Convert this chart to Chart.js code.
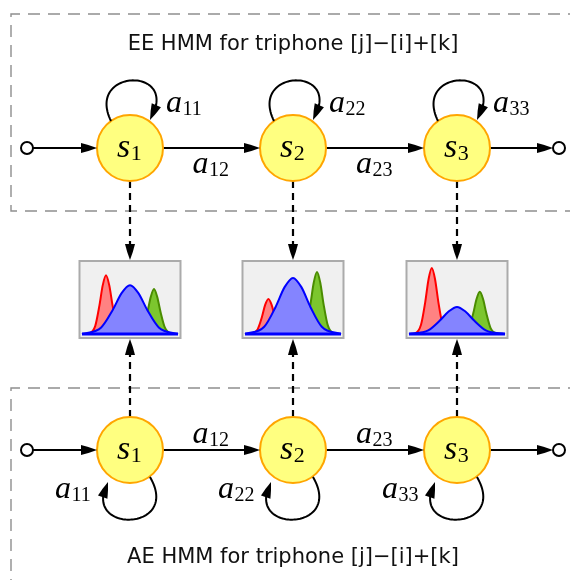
<!DOCTYPE html>
<html>
<head>
<meta charset="utf-8">
<script src="https://cdn.jsdelivr.net/npm/chart.js@4/dist/chart.umd.min.js"></script>
<style>
  html, body { margin: 0; padding: 0; background: #fff; }
  #wrap { width: 570px; height: 580px; }
</style>
</head>
<body>
<div id="wrap"><canvas id="hmm" width="570" height="580"></canvas></div>
<script>
// states and rows of the two HMMs (EE on top, AE at the bottom)
var stateX = [130, 293, 457];
var stateSub = ['1', '2', '3'];
var rowY = [148, 450];
var termX = [27, 559];
var rowTitle = ['EE HMM for triphone [j]\u2212[i]+[k]', 'AE HMM for triphone [j]\u2212[i]+[k]'];
var titleY = [50, 563];
var selfSub = ['11', '22', '33'];
var nextSub = ['12', '23'];

// output densities of each shared state, [feature, density]
var featureRange = [-4, 4];
var redPdf = [
  [[-4, 0], [-3.4, .01], [-2.9, .12], [-2.55, .43], [-2.27, .74], [-2, .89], [-1.73, .74], [-1.45, .43], [-1.1, .12], [-0.6, .01], [4, 0]],
  [[-4, 0], [-3.45, .01], [-2.95, .07], [-2.6, .25], [-2.32, .44], [-2.05, .53], [-1.78, .44], [-1.5, .25], [-1.15, .07], [-0.65, .01], [4, 0]],
  [[-4, 0], [-3.5, .01], [-3.0, .14], [-2.65, .48], [-2.37, .83], [-2.1, 1], [-1.83, .83], [-1.55, .48], [-1.2, .14], [-0.7, .01], [4, 0]]
];
var greenPdf = [
  [[-4, 0], [0.6, .01], [1.1, .1], [1.45, .33], [1.73, .56], [2, .68], [2.27, .56], [2.55, .33], [2.9, .1], [3.4, .01], [4, 0]],
  [[-4, 0], [0.6, .01], [1.1, .13], [1.45, .45], [1.73, .78], [2, .94], [2.27, .78], [2.55, .45], [2.9, .13], [3.4, .01], [4, 0]],
  [[-4, 0], [0.5, .01], [1.0, .09], [1.35, .31], [1.63, .53], [1.9, .64], [2.17, .53], [2.45, .31], [2.8, .09], [3.3, .01], [4, 0]]
];
var bluePdf = [
  [[-4, 0], [-2.4, .1], [-1.45, .36], [-0.7, .62], [0, .74], [0.7, .62], [1.45, .36], [2.4, .1], [4, 0]],
  [[-4, 0], [-2.4, .11], [-1.45, .41], [-0.7, .71], [0, .85], [0.7, .71], [1.45, .41], [2.4, .11], [4, 0]],
  [[-4, 0], [-2.4, .055], [-1.45, .2], [-0.7, .34], [0, .41], [0.7, .34], [1.45, .2], [2.4, .055], [4, 0]]
];

// layout
var R = 33;
var BOX = { top: 261, bottom: 338, half: 50.5, base: 334, ux: 12, uy: 66 };
var AL = 16, AW = 5;
var MATH = '"Liberation Serif", "DejaVu Serif", serif';

function pt(x, y) { return { x: x, y: y }; }

function segment(x1, y1, x2, y2, dash) {
  return {
    type: 'scatter', data: [pt(x1, y1), pt(x2, y2)], showLine: true,
    pointRadius: 0, borderColor: '#000', borderWidth: dash ? 2.2 : 2,
    borderDash: dash || [], order: 20
  };
}

var datasets = [];

// dashed frames around each model
datasets.push({
  type: 'scatter', data: [pt(600, 14), pt(11, 14), pt(11, 211), pt(600, 211)],
  showLine: true, pointRadius: 0, borderColor: '#8e8e8e', borderWidth: 1.4,
  borderDash: [12, 8], order: 30
});
datasets.push({
  type: 'scatter', data: [pt(600, 388), pt(11, 388), pt(11, 600)],
  showLine: true, pointRadius: 0, borderColor: '#8e8e8e', borderWidth: 1.4,
  borderDash: [12, 8], order: 30
});

// arrow heads to draw later: [tipX, tipY, angle]
var heads = [];

rowY.forEach(function(y) {
  var xs = [termX[0] + 6].concat(stateX, [termX[1] - 6]);
  for (var i = 0; i < xs.length - 1; i++) {
    var from = i === 0 ? xs[0] : xs[i] + R;
    var to = i === xs.length - 2 ? xs[i + 1] : xs[i + 1] - R;
    datasets.push(segment(from, y, to - AL + 3, y));
    heads.push([to, y, 0]);
  }
});

// emission links (dashed) into the density plots
stateX.forEach(function(x) {
  datasets.push(segment(x, rowY[0] + R, x, BOX.top - AL + 3, [7, 5]));
  heads.push([x, BOX.top - 1, Math.PI / 2]);
  datasets.push(segment(x, rowY[1] - R, x, BOX.bottom + AL - 3, [7, 5]));
  heads.push([x, BOX.bottom + 1, -Math.PI / 2]);
});

// state nodes and terminals
var nodes = [], terms = [];
rowY.forEach(function(y) {
  stateX.forEach(function(x) { nodes.push(pt(x, y)); });
  terms.push(pt(termX[0], y), pt(termX[1], y));
});
datasets.push({
  type: 'scatter', data: nodes, pointRadius: R, pointHoverRadius: R,
  pointBackgroundColor: '#ffff80', pointBorderColor: '#ffa500', pointBorderWidth: 2, order: 0
});
datasets.push({
  type: 'scatter', data: terms, pointRadius: 6, pointHoverRadius: 6,
  pointBackgroundColor: '#fff', pointBorderColor: '#000', pointBorderWidth: 2, order: 0
});

// mixture densities
function pdfSet(points, x0, line, fillCol, order) {
  return {
    type: 'scatter', showLine: true, pointRadius: 0,
    data: points.map(function(p) { return pt(x0 + p[0] * BOX.ux, BOX.base - p[1] * BOX.uy); }),
    borderColor: line, borderWidth: 2, backgroundColor: fillCol,
    fill: { value: BOX.base }, cubicInterpolationMode: 'monotone', order: order
  };
}
stateX.forEach(function(x, i) {
  datasets.push(pdfSet(redPdf[i], x, '#ff0000', '#ff8282', 12));
  datasets.push(pdfSet(greenPdf[i], x, '#4a8c00', '#7cc62e', 11));
  datasets.push(pdfSet(bluePdf[i], x, '#0000ff', '#8484ff', 10));
  // feature axis of the small plot
  datasets.push({
    type: 'scatter', showLine: true, pointRadius: 0,
    data: [pt(x + featureRange[0] * BOX.ux, BOX.base), pt(x + featureRange[1] * BOX.ux, BOX.base)],
    borderColor: '#0000ff', borderWidth: 3.2, order: 9
  });
});

// self loops as cubic curves, offsets from the node centre
var loopTop = [[-19, -27], [-45, -80], [52, -82], [20, -28]];
var loopBottom = [[20, 27], [52, 82], [-50, 84], [-22, 32]];

function bez(p, t) {
  var u = 1 - t;
  return [
    u * u * u * p[0][0] + 3 * u * u * t * p[1][0] + 3 * u * t * t * p[2][0] + t * t * t * p[3][0],
    u * u * u * p[0][1] + 3 * u * u * t * p[1][1] + 3 * u * t * t * p[2][1] + t * t * t * p[3][1]
  ];
}

function drawHead(ctx, x, y, ang) {
  ctx.save();
  ctx.translate(x, y);
  ctx.rotate(ang);
  ctx.beginPath();
  ctx.moveTo(0, 0);
  ctx.quadraticCurveTo(-AL * 0.5, -AW * 0.62, -AL, -AW);
  ctx.lineTo(-AL, AW);
  ctx.quadraticCurveTo(-AL * 0.5, AW * 0.62, 0, 0);
  ctx.closePath();
  ctx.fillStyle = '#000';
  ctx.fill();
  ctx.restore();
}

function mathLabel(ctx, base, sub, x, y, size) {
  ctx.fillStyle = '#000';
  ctx.textAlign = 'left';
  ctx.textBaseline = 'alphabetic';
  ctx.font = 'italic ' + size + 'px ' + MATH;
  ctx.fillText(base, x, y);
  var w = ctx.measureText(base).width;
  ctx.font = Math.round(size * 0.64) + 'px ' + MATH;
  ctx.fillText(sub, x + w + 0.5, y + 3);
}

var diagram = {
  id: 'diagram',
  beforeDatasetsDraw: function(chart) {
    var ctx = chart.ctx, sx = chart.scales.x, sy = chart.scales.y;
    ctx.save();
    stateX.forEach(function(x) {
      var l = sx.getPixelForValue(x - BOX.half), r = sx.getPixelForValue(x + BOX.half);
      var t = sy.getPixelForValue(BOX.top), b = sy.getPixelForValue(BOX.bottom);
      ctx.fillStyle = '#f0f0f0';
      ctx.fillRect(l, t, r - l, b - t);
      ctx.strokeStyle = '#ababab';
      ctx.lineWidth = 2;
      ctx.strokeRect(l, t, r - l, b - t);
    });
    ctx.restore();
  },
  afterDatasetsDraw: function(chart) {
    var ctx = chart.ctx, sx = chart.scales.x, sy = chart.scales.y;
    function P(x, y) { return [sx.getPixelForValue(x), sy.getPixelForValue(y)]; }
    ctx.save();

    heads.forEach(function(h) {
      var p = P(h[0], h[1]);
      drawHead(ctx, p[0], p[1], h[2]);
    });

    // self loops
    rowY.forEach(function(y, row) {
      var shape = row === 0 ? loopTop : loopBottom;
      stateX.forEach(function(x) {
        var c = shape.map(function(o) { return P(x + o[0], y + o[1]); });
        var tip = c[3], t = 1, q = tip;
        while (t > 0) {
          q = bez(c, t);
          if (Math.hypot(q[0] - tip[0], q[1] - tip[1]) >= AL - 2) break;
          t -= 0.005;
        }
        ctx.beginPath();
        ctx.moveTo(c[0][0], c[0][1]);
        for (var k = 1; k <= 60; k++) {
          var b = bez(c, t * k / 60);
          ctx.lineTo(b[0], b[1]);
        }
        ctx.strokeStyle = '#000';
        ctx.lineWidth = 2;
        ctx.stroke();
        drawHead(ctx, tip[0], tip[1], Math.atan2(tip[1] - q[1], tip[0] - q[0]));
      });
    });

    // state names
    rowY.forEach(function(y) {
      stateX.forEach(function(x, i) {
        var p = P(x - 13, y + 9);
        mathLabel(ctx, 's', stateSub[i], p[0], p[1], 34);
      });
    });

    // transition labels
    stateX.forEach(function(x, i) {
      var p = P(x + 36, 112);
      mathLabel(ctx, 'a', selfSub[i], p[0], p[1], 32);
      p = P(x - 75, 498);
      mathLabel(ctx, 'a', selfSub[i], p[0], p[1], 32);
    });
    nextSub.forEach(function(s, i) {
      var mid = (stateX[i] + stateX[i + 1]) / 2;
      var p = P(mid - 19, 173);
      mathLabel(ctx, 'a', s, p[0], p[1], 32);
      p = P(mid - 19, 443);
      mathLabel(ctx, 'a', s, p[0], p[1], 32);
    });

    // model titles
    ctx.font = '21px "DejaVu Sans", sans-serif';
    ctx.fillStyle = '#111';
    ctx.textAlign = 'center';
    rowTitle.forEach(function(txt, i) {
      var p = P(293, titleY[i]);
      ctx.fillText(txt, p[0], p[1]);
    });
    ctx.restore();
  }
};

new Chart(document.getElementById('hmm'), {
  type: 'scatter',
  data: { datasets: datasets },
  options: {
    responsive: false,
    animation: false,
    events: [],
    layout: { padding: 0, autoPadding: false },
    scales: {
      x: { type: 'linear', min: 0, max: 570, display: false },
      y: { type: 'linear', min: 0, max: 580, reverse: true, display: false }
    },
    plugins: { legend: { display: false }, tooltip: { enabled: false } }
  },
  plugins: [diagram]
});
</script>
</body>
</html>
